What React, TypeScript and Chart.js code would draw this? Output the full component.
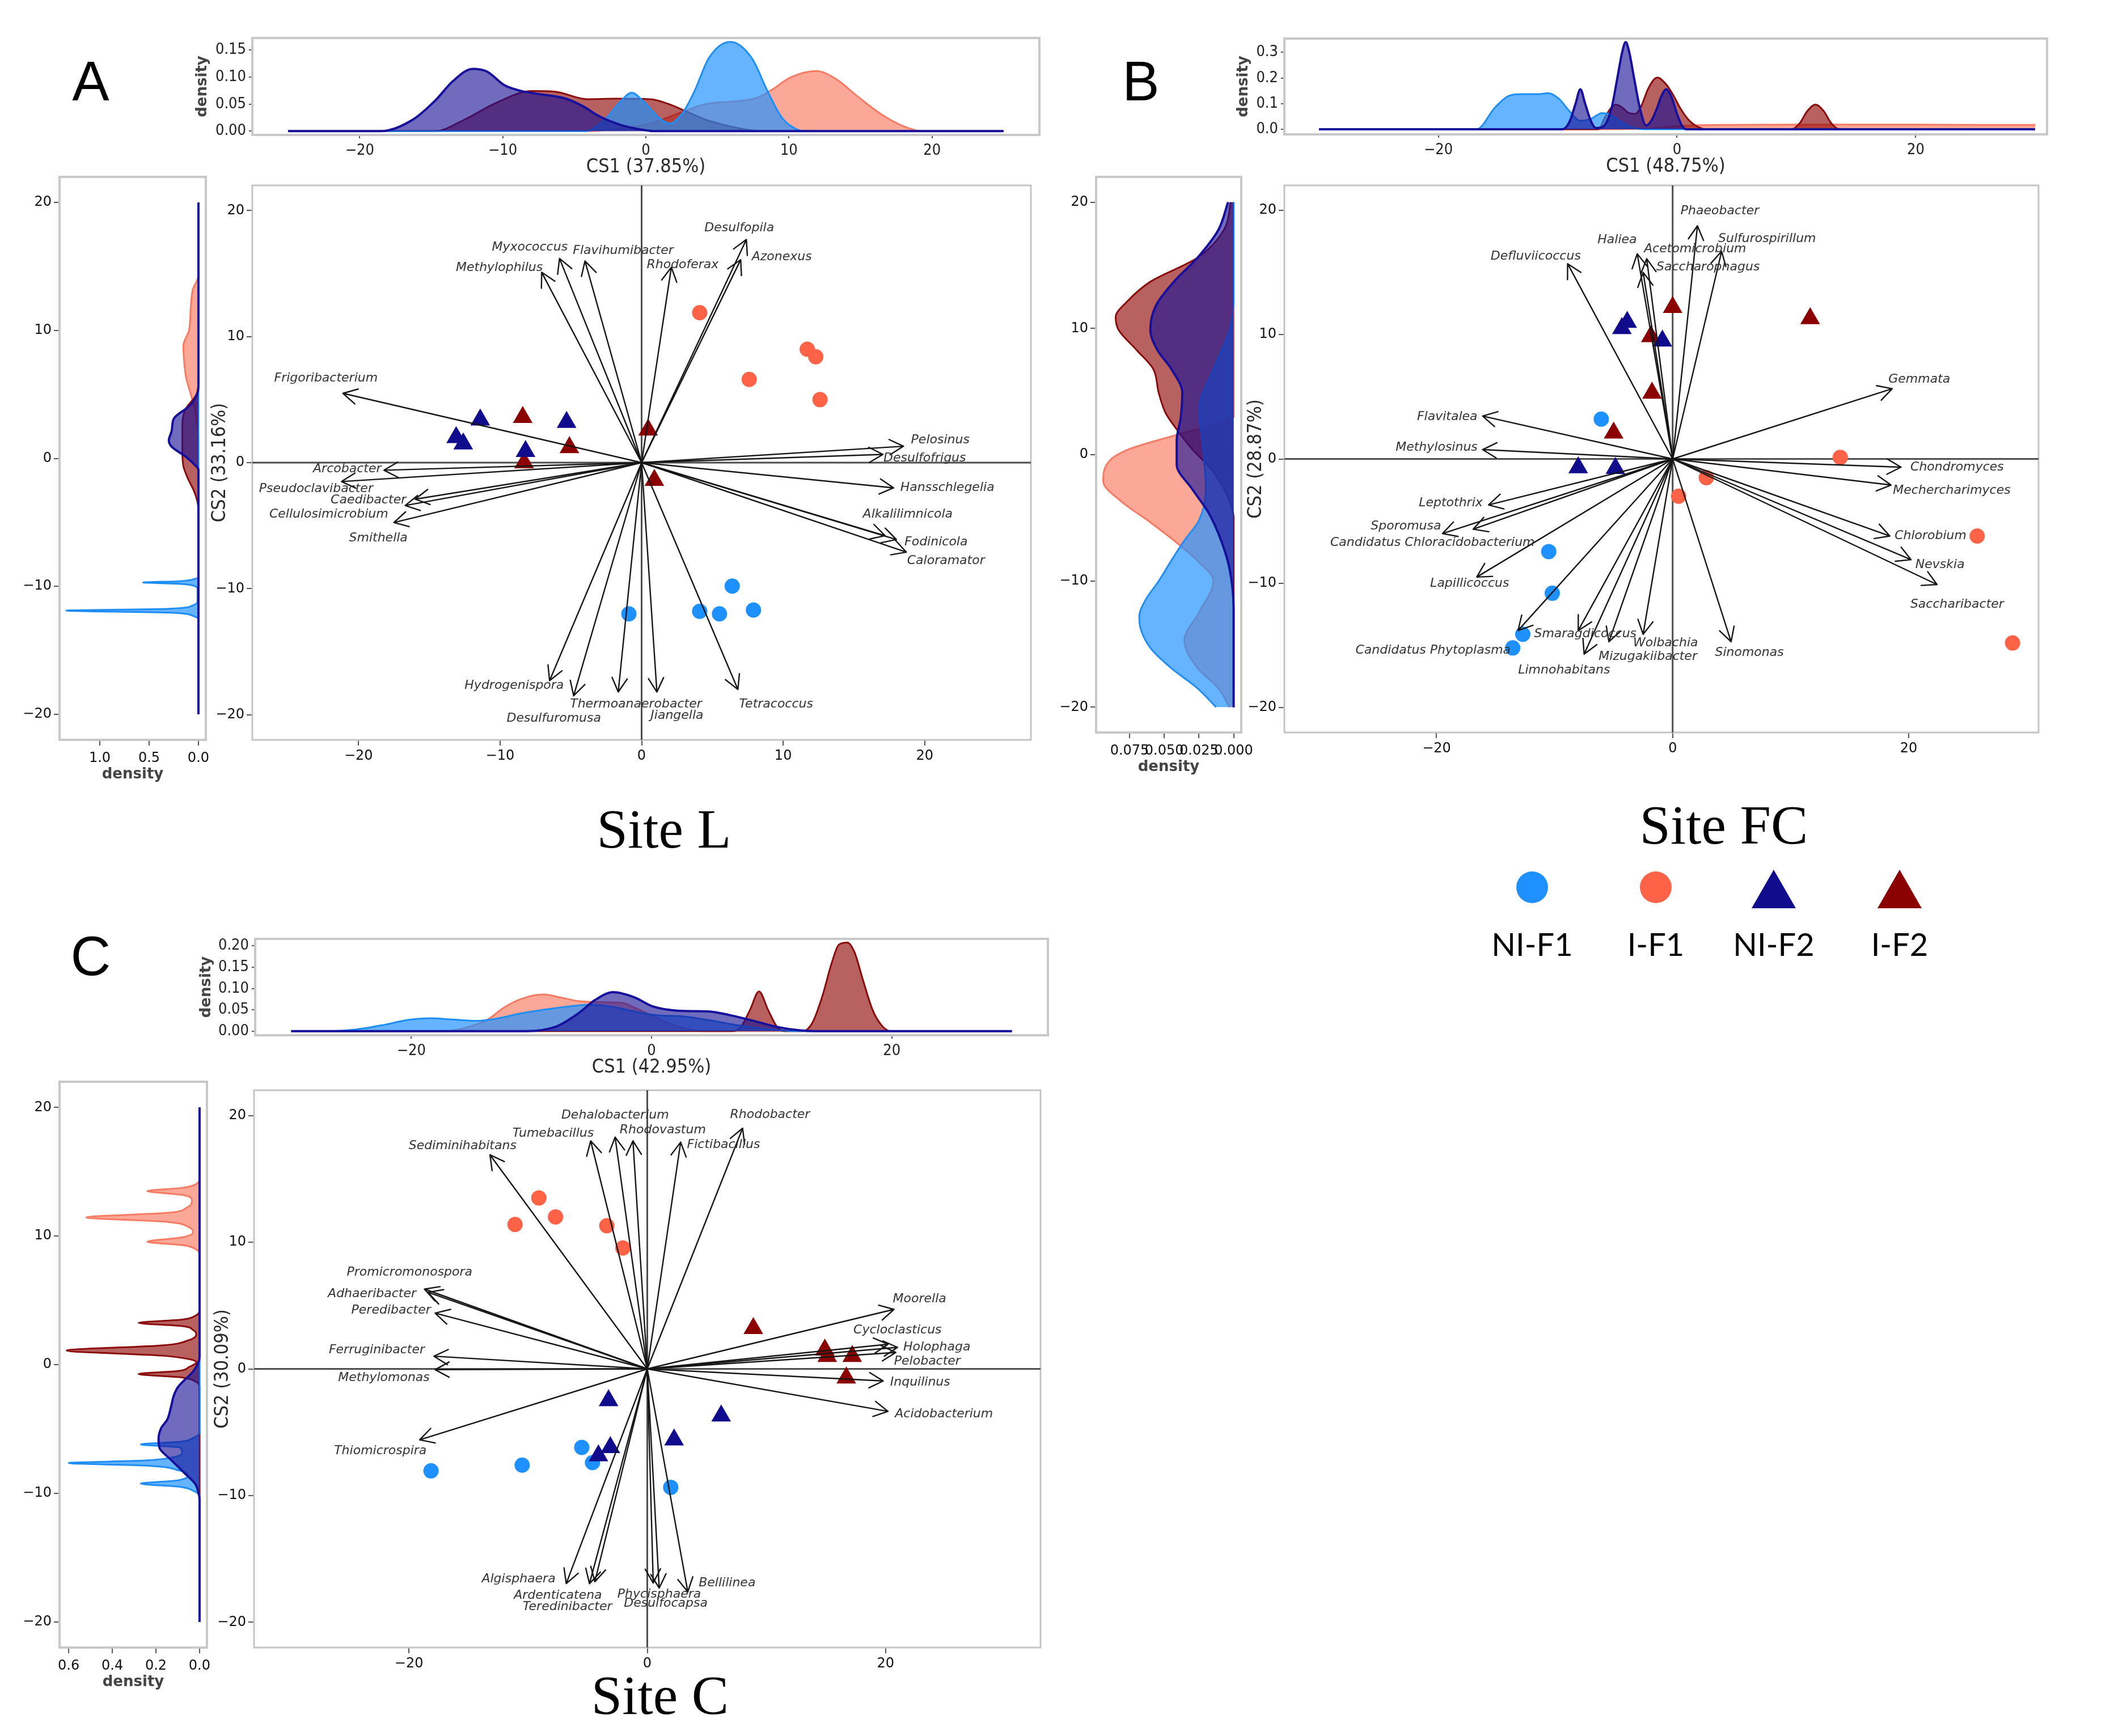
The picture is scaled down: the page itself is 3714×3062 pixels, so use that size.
import React, { useEffect, useRef } from 'react';
import { Chart, registerables } from 'chart.js';

Chart.register(...registerables);

// ---------------- fonts ----------------
const SANS = "'DejaVu Sans', Verdana, sans-serif";
const COND = "'Liberation Sans Narrow', 'DejaVu Sans Condensed', 'Arial Narrow', sans-serif";
const SERIF = "'Liberation Serif', 'Times New Roman', serif";
const ARIAL = "'Liberation Sans', Arial, sans-serif";
const LEGEND_FONT = "Lato, 'Open Sans', sans-serif";

// ---------------- groups ----------------
const GROUPS = ['NI-F1', 'I-F1', 'NI-F2', 'I-F2'];
const POINT_COLORS = ['#1E90FF', '#FF6347', '#100C8C', '#8B0000'];
const LINE_COLORS = ['#1E8EF5', '#F77B63', '#16109C', '#8B0A0A'];
const FILL_COLORS = ['rgba(30,144,255,0.68)', 'rgba(250,110,85,0.6)', 'rgba(24,16,148,0.62)', 'rgba(139,0,0,0.62)'];
const POINT_SHAPES = ['circle', 'circle', 'triangle', 'triangle'];
const DRAW_ORDER = [2, 0, 3, 1];

// ---------------- tick values ----------------
const MAIN_Y_TICKS = [-20, -10, 0, 10, 20];
const A_X_TICKS = [-20, -10, 0, 10, 20];
const B_X_TICKS = [-20, 0, 20];
const C_X_TICKS = [-20, 0, 20];
const A_TOP_Y_TICKS = [0, 0.05, 0.1, 0.15];
const B_TOP_Y_TICKS = [0, 0.1, 0.2, 0.3];
const C_TOP_Y_TICKS = [0, 0.05, 0.1, 0.15, 0.2];
const A_LEFT_X_TICKS = [0, 0.5, 1.0];
const B_LEFT_X_TICKS = [0, 0.025, 0.05, 0.075];
const C_LEFT_X_TICKS = [0, 0.2, 0.4, 0.6];

// ================= PANEL A (Site L) =================
const A_NIF1_X = [-0.9, 4.1, 5.5, 6.4, 7.9];
const A_NIF1_Y = [-12.0, -11.8, -12.0, -9.8, -11.7];
const A_IF1_X = [4.1, 7.6, 11.7, 12.3, 12.6];
const A_IF1_Y = [11.9, 6.6, 9.0, 8.4, 5.0];
const A_NIF2_X = [-13.1, -12.6, -11.4, -8.2, -5.3];
const A_NIF2_Y = [2.0, 1.5, 3.4, 0.9, 3.2];
const A_IF2_X = [-8.4, -8.3, -5.1, 0.46, 0.9];
const A_IF2_Y = [3.6, 0.0, 1.2, 2.6, -1.4];

const A_TAXA = ['Methylophilus', 'Myxococcus', 'Flavihumibacter', 'Rhodoferax', 'Desulfopila', 'Azonexus', 'Frigoribacterium', 'Arcobacter', 'Pseudoclavibacter', 'Caedibacter', 'Cellulosimicrobium', 'Smithella', 'Hydrogenispora', 'Desulfuromusa', 'Thermoanaerobacter', 'Jiangella', 'Tetracoccus', 'Pelosinus', 'Desulfofrigus', 'Hansschlegelia', 'Alkalilimnicola', 'Fodinicola', 'Caloramator'];
const A_ARROW_X = [-7.06, -5.8, -4.0, 2.1, 7.4, 7.0, -21.1, -18.2, -21.2, -16.0, -16.7, -17.5, -6.5, -4.8, -1.65, 1.08, 6.8, 18.5, 17.05, 17.8, 17.2, 18.0, 18.7];
const A_ARROW_Y = [15.1, 16.2, 16.0, 15.5, 17.7, 16.1, 5.5, -0.6, -1.5, -2.9, -3.4, -4.75, -17.3, -18.5, -18.2, -18.2, -18.0, 1.3, 0.65, -2.0, -5.8, -6.1, -7.1];
const A_LABEL_X = [-10.05, -7.9, -1.3, 2.9, 6.9, 9.9, -22.3, -20.8, -23.0, -19.3, -22.1, -18.6, -9.0, -6.2, -0.4, 2.5, 9.5, 21.1, 20.0, 21.6, 18.8, 20.8, 21.5];
const A_LABEL_Y = [15.45, 17.1, 16.8, 15.7, 18.6, 16.3, 6.7, -0.5, -2.1, -3.0, -4.1, -6.0, -17.7, -20.3, -19.2, -20.1, -19.2, 1.8, 0.35, -2.0, -4.1, -6.3, -7.8];

const A_TOP_NIF1_POS = [-25, -4.2, -2.9, -1.7, -1.0, -0.1, 0.9, 1.65, 2.6, 3.4, 4.4, 5.9, 7.4, 8.5, 9.5, 10.5, 11.2, 25];
const A_TOP_NIF1_DEN = [0, 0, 0.021, 0.057, 0.071, 0.053, 0.025, 0.014, 0.035, 0.074, 0.135, 0.165, 0.135, 0.074, 0.025, 0.004, 0, 0];
const A_TOP_IF1_POS = [-25, -4, -2, 0.3, 2.2, 4.2, 6.2, 7.8, 8.9, 10.1, 11.9, 13.3, 14.8, 16.4, 18.0, 19.3, 25];
const A_TOP_IF1_DEN = [0, 0, 0.004, 0.014, 0.032, 0.05, 0.055, 0.062, 0.078, 0.099, 0.111, 0.096, 0.064, 0.032, 0.009, 0, 0];
const A_TOP_NIF2_POS = [-25, -18.5, -16.3, -14.7, -13.5, -12.1, -11.1, -9.9, -8.7, -7.6, -5.6, -4.4, -3.3, -1.7, -0.1, 0.6, 25];
const A_TOP_NIF2_DEN = [0, 0, 0.021, 0.057, 0.092, 0.115, 0.11, 0.085, 0.074, 0.069, 0.06, 0.046, 0.028, 0.011, 0.002, 0, 0];
const A_TOP_IF2_POS = [-25, -14.7, -12.7, -10.4, -8.0, -6.4, -4.1, -2.1, 0.3, 1.5, 2.6, 4.2, 6.2, 8.1, 25];
const A_TOP_IF2_DEN = [0, 0, 0.021, 0.053, 0.074, 0.073, 0.059, 0.06, 0.059, 0.051, 0.039, 0.021, 0.007, 0, 0];

const A_LEFT_NIF1_POS = [-20, -12.6, -12.3, -12.05, -11.9, -11.75, -11.5, -11.2, -10.2, -9.95, -9.8, -9.7, -9.6, -9.45, -9.2, 20];
const A_LEFT_NIF1_DEN = [0, 0, 0.06, 0.3, 1.34, 0.3, 0.06, 0.01, 0.01, 0.05, 0.2, 0.56, 0.2, 0.05, 0, 0];
const A_LEFT_IF1_POS = [-20, 1.5, 2.5, 3.8, 5.0, 6.3, 7.5, 8.8, 10.0, 11.9, 13.2, 14.3, 20];
const A_LEFT_IF1_DEN = [0, 0, 0.01, 0.038, 0.077, 0.125, 0.144, 0.153, 0.096, 0.077, 0.057, 0, 0];
const A_LEFT_NIF2_POS = [-20, -0.9, -0.5, 0.16, 0.9, 1.4, 2.2, 3.1, 4.2, 5.6, 20];
const A_LEFT_NIF2_DEN = [0, 0, 0.038, 0.134, 0.27, 0.3, 0.27, 0.25, 0.077, 0, 0];
const A_LEFT_IF2_POS = [-20, -4.1, -3.4, -2.5, -1.6, -0.6, 0.6, 2.5, 3.8, 5.0, 6.0, 20];
const A_LEFT_IF2_DEN = [0, 0, 0.01, 0.048, 0.105, 0.153, 0.163, 0.163, 0.134, 0.02, 0, 0];

// ================= PANEL B (Site FC) =================
const B_NIF1_X = [-13.55, -12.7, -10.5, -10.2, -6.05];
const B_NIF1_Y = [-15.2, -14.1, -7.45, -10.8, 3.2];
const B_IF1_X = [0.5, 2.85, 14.2, 25.8, 28.8];
const B_IF1_Y = [-3.0, -1.5, 0.13, -6.2, -14.8];
const B_NIF2_X = [-8.0, -4.85, -4.3, -3.85, -0.87];
const B_NIF2_Y = [-0.7, -0.75, 10.5, 11.0, 9.5];
const B_IF2_X = [-5.0, -1.85, -1.75, 0.0, 11.65];
const B_IF2_Y = [2.1, 9.85, 5.3, 12.2, 11.3];

const B_TAXA = ['Defluviicoccus', 'Haliea', 'Acetomicrobium', 'Saccharophagus', 'Phaeobacter', 'Sulfurospirillum', 'Gemmata', 'Chondromyces', 'Mechercharimyces', 'Chlorobium', 'Nevskia', 'Saccharibacter', 'Sinomonas', 'Wolbachia', 'Mizugakiibacter', 'Smaragdicoccus', 'Limnohabitans', 'Candidatus Phytoplasma', 'Lapillicoccus', 'Candidatus Chloracidobacterium', 'Sporomusa', 'Leptothrix', 'Methylosinus', 'Flavitalea'];
const B_ARROW_X = [-8.9, -3.0, -2.2, -2.5, 2.1, 4.15, 18.6, 19.35, 18.5, 18.4, 20.2, 22.4, 4.95, -2.5, -5.4, -8.0, -7.5, -13.1, -16.6, -16.9, -19.5, -15.6, -16.1, -16.1];
const B_ARROW_Y = [15.7, 16.5, 16.1, 15.0, 18.75, 16.7, 5.65, -0.66, -2.1, -6.2, -8.1, -10.1, -14.7, -14.1, -14.7, -13.8, -15.7, -13.8, -9.5, -5.65, -6.0, -3.7, 0.75, 3.45];
const B_LABEL_X = [-11.6, -4.7, 1.9, 3.0, 4.0, 8.0, 20.9, 24.1, 23.65, 21.85, 22.65, 24.1, 6.5, -0.6, -2.1, -7.4, -9.2, -20.3, -17.2, -20.35, -22.6, -18.8, -20.0, -19.1];
const B_LABEL_Y = [16.3, 17.6, 16.9, 15.4, 19.95, 17.7, 6.4, -0.66, -2.55, -6.2, -8.5, -11.7, -15.6, -14.8, -15.9, -14.1, -17.0, -15.4, -10.0, -6.75, -5.4, -3.55, 0.9, 3.4];

const B_TOP_NIF1_POS = [-30, -16.8, -15.25, -14.1, -13.0, -11.7, -10.8, -9.9, -9.0, -8.1, -7.2, -6.3, -5.7, -4.8, -3.7, -2.8, 30];
const B_TOP_NIF1_DEN = [0, 0, 0.085, 0.13, 0.137, 0.137, 0.141, 0.119, 0.07, 0.033, 0.041, 0.063, 0.059, 0.033, 0.007, 0, 0];
const B_TOP_IF1_POS = [-30, -5, -2, 0, 2, 5, 10, 15, 20, 25, 30];
const B_TOP_IF1_DEN = [0, 0, 0.004, 0.012, 0.016, 0.017, 0.018, 0.018, 0.018, 0.017, 0.017];
const B_TOP_NIF2_POS = [-30, -9.6, -9.0, -8.5, -8.1, -7.7, -7.2, -6.8, -6.2, -5.5, -5.0, -4.6, -4.3, -4.0, -3.6, -3.1, -2.6, -2.2, -1.7, -1.3, -0.9, -0.5, 0, 0.4, 0.8, 30];
const B_TOP_NIF2_DEN = [0, 0, 0.03, 0.1, 0.156, 0.1, 0.03, 0.005, 0.01, 0.08, 0.2, 0.3, 0.34, 0.3, 0.2, 0.08, 0.015, 0.03, 0.08, 0.13, 0.156, 0.13, 0.06, 0.015, 0, 0];
const B_TOP_IF2_POS = [-30, -6.6, -6.0, -5.5, -5.1, -4.6, -4.1, -3.5, -3.0, -2.4, -1.65, -1.0, -0.4, 0.3, 1.0, 1.8, 2.5, 9.6, 10.3, 10.9, 11.6, 12.3, 12.9, 13.6, 30];
const B_TOP_IF2_DEN = [0, 0, 0.05, 0.085, 0.096, 0.085, 0.065, 0.06, 0.09, 0.16, 0.202, 0.18, 0.14, 0.08, 0.035, 0.008, 0, 0, 0.025, 0.07, 0.096, 0.07, 0.025, 0, 0];

const B_LEFT_NIF1_POS = [-20, -18.5, -16.9, -15.3, -13.8, -12.8, -11.6, -10.0, -8.4, -6.8, -5.2, -2.7, 0.4, 3.6, 6.8, 9.9, 12.1, 20];
const B_LEFT_NIF1_DEN = [0.0127, 0.026, 0.045, 0.06, 0.067, 0.068, 0.064, 0.054, 0.045, 0.0355, 0.025, 0.02, 0.022, 0.025, 0.0146, 0.003, 0, 0];
const B_LEFT_IF1_POS = [-20, -18.5, -16.9, -14.7, -12.5, -10.0, -8.4, -6.8, -5.2, -3.7, -2.1, -0.5, 0.45, 1.7, 3.0, 20];
const B_LEFT_IF1_DEN = [0.003, 0.011, 0.026, 0.0355, 0.025, 0.0146, 0.026, 0.043, 0.062, 0.081, 0.094, 0.0896, 0.075, 0.037, 0, 0];
const B_LEFT_NIF2_POS = [-20, -12.2, -9.0, -6.8, -4.6, -2.7, -0.8, 1.1, 3.0, 4.9, 6.8, 8.3, 9.9, 11.8, 13.7, 15.6, 17.8, 20];
const B_LEFT_NIF2_DEN = [0, 0, 0.003, 0.009, 0.018, 0.03, 0.041, 0.041, 0.038, 0.037, 0.045, 0.055, 0.06, 0.056, 0.043, 0.026, 0.011, 0.004];
const B_LEFT_IF2_POS = [-20, -5, -4.3, -2.7, -1.1, 0.45, 2.0, 3.3, 4.9, 6.8, 8.3, 9.9, 10.9, 12.1, 13.7, 15.6, 17.8, 20];
const B_LEFT_IF2_DEN = [0, 0, 0.001, 0.007, 0.0165, 0.03, 0.041, 0.049, 0.054, 0.058, 0.07, 0.083, 0.085, 0.077, 0.06, 0.026, 0.007, 0.002];

// ================= PANEL C (Site C) =================
const C_NIF1_X = [-18.15, -10.5, -5.5, -4.6, 1.97];
const C_NIF1_Y = [-8.05, -7.6, -6.2, -7.4, -9.35];
const C_IF1_X = [-11.1, -9.1, -7.7, -3.4, -2.05];
const C_IF1_Y = [11.4, 13.5, 12.0, 11.3, 9.55];
const C_NIF2_X = [-4.1, -3.25, -3.1, 2.25, 6.2];
const C_NIF2_Y = [-6.85, -2.5, -6.2, -5.6, -3.7];
const C_IF2_X = [8.9, 14.9, 15.1, 16.7, 17.2];
const C_IF2_Y = [3.2, 1.5, 1.0, -0.7, 1.0];

const C_TAXA = ['Sediminihabitans', 'Tumebacillus', 'Dehalobacterium', 'Rhodovastum', 'Fictibacillus', 'Rhodobacter', 'Promicromonospora', 'Adhaeribacter', 'Peredibacter', 'Ferruginibacter', 'Methylomonas', 'Thiomicrospira', 'Algisphaera', 'Ardenticatena', 'Teredinibacter', 'Phycisphaera', 'Desulfocapsa', 'Bellilinea', 'Moorella', 'Cycloclasticus', 'Holophaga', 'Pelobacter', 'Inquilinus', 'Acidobacterium'];
const C_ARROW_X = [-13.2, -4.75, -2.7, -1.2, 2.8, 8.0, -18.7, -18.4, -17.8, -17.9, -17.8, -19.1, -6.8, -4.85, -4.4, 0.5, 1.0, 3.4, 20.7, 20.2, 21.0, 20.85, 19.8, 20.2];
const C_ARROW_Y = [16.9, 18.0, 18.3, 18.0, 17.9, 19.0, 6.3, 6.05, 4.4, 1.0, -0.06, -5.6, -16.95, -16.95, -16.8, -16.9, -17.3, -17.6, 4.7, 1.95, 1.7, 1.3, -0.95, -3.35];
const C_LABEL_X = [-15.5, -7.9, -2.7, 1.3, 6.4, 10.3, -19.95, -23.1, -21.5, -22.7, -22.1, -22.4, -10.8, -7.5, -6.7, 1.0, 1.55, 6.7, 22.85, 21.0, 24.3, 23.5, 22.9, 24.9];
const C_LABEL_Y = [17.6, 18.6, 20.0, 18.85, 17.7, 20.05, 7.6, 5.9, 4.6, 1.5, -0.7, -6.5, -16.6, -17.9, -18.8, -17.8, -18.5, -16.9, 5.5, 3.05, 1.7, 0.6, -1.05, -3.55];

const C_TOP_NIF1_POS = [-30, -27, -24.6, -22.2, -20.3, -18.4, -16.5, -14.6, -12.75, -10.9, -9.0, -7.1, -5.2, -3.3, -1.4, 0.5, 2.4, 4.25, 6.1, 8.0, 9.9, 11.8, 30];
const C_TOP_NIF1_DEN = [0, 0, 0.004, 0.015, 0.026, 0.03, 0.027, 0.024, 0.03, 0.0415, 0.05, 0.057, 0.062, 0.057, 0.046, 0.037, 0.035, 0.028, 0.019, 0.01, 0.004, 0, 0];
const C_TOP_IF1_POS = [-30, -17, -15.5, -13.7, -12.3, -10.9, -9.0, -7.6, -6.1, -4.25, -2.4, -1.4, 0, 1.4, 2.8, 4.25, 30];
const C_TOP_IF1_DEN = [0, 0, 0.008, 0.026, 0.055, 0.075, 0.086, 0.079, 0.0705, 0.068, 0.066, 0.055, 0.037, 0.019, 0.006, 0, 0];
const C_TOP_NIF2_POS = [-30, -10.4, -8.0, -6.1, -4.7, -3.2, -1.4, 0, 1.4, 2.8, 4.7, 6.6, 8.5, 10.4, 12.3, 13.7, 30];
const C_TOP_NIF2_DEN = [0, 0, 0.01, 0.0415, 0.073, 0.0915, 0.079, 0.059, 0.05, 0.047, 0.046, 0.037, 0.024, 0.01, 0.002, 0, 0];
const C_TOP_IF2_POS = [-30, 6.8, 7.5, 8.2, 8.95, 9.7, 10.4, 11.0, 12.6, 13.4, 14.2, 15.0, 15.6, 16.3, 16.9, 17.6, 18.4, 19.2, 19.9, 30];
const C_TOP_IF2_DEN = [0, 0, 0.012, 0.05, 0.093, 0.05, 0.012, 0, 0, 0.02, 0.08, 0.16, 0.203, 0.208, 0.185, 0.12, 0.05, 0.012, 0, 0];

const C_LEFT_NIF1_POS = [-20, -10.2, -9.8, -9.5, -9.25, -9.0, -8.6, -8.2, -7.85, -7.65, -7.45, -7.2, -6.8, -6.45, -6.2, -6.0, -5.7, -5.3, 20];
const C_LEFT_NIF1_DEN = [0, 0, 0.03, 0.09, 0.27, 0.1, 0.054, 0.1, 0.25, 0.6, 0.25, 0.12, 0.08, 0.09, 0.27, 0.09, 0.03, 0, 0];
const C_LEFT_IF1_POS = [-20, 8.5, 9.0, 9.3, 9.55, 9.9, 10.3, 10.7, 11.1, 11.45, 11.8, 12.2, 12.8, 13.2, 13.5, 13.75, 14.0, 14.5, 20];
const C_LEFT_IF1_DEN = [0, 0, 0.02, 0.08, 0.24, 0.08, 0.03, 0.05, 0.15, 0.52, 0.15, 0.06, 0.035, 0.08, 0.24, 0.08, 0.02, 0, 0];
const C_LEFT_NIF2_POS = [-20, -10.5, -9.9, -9.3, -8.4, -7.4, -6.5, -5.8, -4.9, -4.3, -3.3, -2.4, -1.7, -0.5, 0.15, 0.6, 20];
const C_LEFT_NIF2_DEN = [0, 0, 0.006, 0.019, 0.071, 0.131, 0.183, 0.188, 0.175, 0.149, 0.131, 0.118, 0.097, 0.028, 0.006, 0, 0];
const C_LEFT_IF2_POS = [-20, -1.7, -1.3, -1.0, -0.73, -0.5, -0.2, 0.2, 0.4, 0.7, 1.1, 1.5, 1.9, 2.35, 2.7, 3.0, 3.25, 3.5, 3.8, 4.2, 20];
const C_LEFT_IF2_DEN = [0, 0, 0.02, 0.08, 0.28, 0.1, 0.05, 0.015, 0.04, 0.17, 0.61, 0.17, 0.05, 0.015, 0.03, 0.08, 0.28, 0.08, 0.02, 0, 0];

// ---------------- helpers ----------------
type Rect = { left: number; top: number; width: number; height: number };
const PAD = 5;
const LEFT_PAD_R = 40;

function rectFor(box: number[], gl: number, gb: number, padR: number = PAD): Rect {
  const [L, T, R, B] = box;
  return { left: L - gl, top: T - PAD, width: R - L + gl + padR, height: B - T + PAD + gb };
}

function fmt(v: number, d: number) {
  const s = Math.abs(v).toFixed(d);
  return (v < -1e-9 ? '\u2212' : '') + s;
}

function fitAxis(size: number, vertical: boolean) {
  return (s: any) => {
    if (vertical) s.width = size;
    else s.height = size;
    s.paddingLeft = 0;
    s.paddingRight = 0;
    s.paddingTop = 0;
    s.paddingBottom = 0;
  };
}

function fixedTicks(values: number[]) {
  return (s: any) => {
    s.ticks = values.map((v) => ({ value: v }));
  };
}

function framePlugin(color: string, width: number) {
  return {
    id: 'frame',
    afterDraw(chart: any) {
      const { ctx, chartArea: a } = chart;
      ctx.save();
      ctx.strokeStyle = color;
      ctx.lineWidth = width;
      ctx.strokeRect(a.left, a.top, a.right - a.left, a.bottom - a.top);
      ctx.restore();
    },
  };
}

function biplotPlugin(names: string[], ax: number[], ay: number[], lx: number[], ly: number[]) {
  return {
    id: 'biplot',
    beforeDatasetsDraw(chart: any) {
      const { ctx, chartArea: a, scales } = chart;
      const x0 = scales.x.getPixelForValue(0);
      const y0 = scales.y.getPixelForValue(0);
      ctx.save();
      ctx.strokeStyle = '#c4c4c4';
      ctx.lineWidth = 3;
      ctx.strokeRect(a.left, a.top, a.right - a.left, a.bottom - a.top);
      ctx.strokeStyle = '#4d4d4d';
      ctx.lineWidth = 3;
      ctx.beginPath();
      ctx.moveTo(a.left, y0);
      ctx.lineTo(a.right, y0);
      ctx.moveTo(x0, a.top);
      ctx.lineTo(x0, a.bottom);
      ctx.stroke();
      ctx.restore();
    },
    afterDatasetsDraw(chart: any) {
      const { ctx, scales } = chart;
      const x0 = scales.x.getPixelForValue(0);
      const y0 = scales.y.getPixelForValue(0);
      ctx.save();
      ctx.strokeStyle = '#161616';
      ctx.lineWidth = 2.4;
      ctx.lineCap = 'round';
      names.forEach((_, i) => {
        const px = scales.x.getPixelForValue(ax[i]);
        const py = scales.y.getPixelForValue(ay[i]);
        const ang = Math.atan2(py - y0, px - x0);
        ctx.beginPath();
        ctx.moveTo(x0, y0);
        ctx.lineTo(px, py);
        for (const s of [-1, 1]) {
          const a2 = ang + Math.PI + s * 0.5;
          ctx.moveTo(px, py);
          ctx.lineTo(px + 28 * Math.cos(a2), py + 28 * Math.sin(a2));
        }
        ctx.stroke();
      });
      ctx.font = `italic 22px ${SANS}`;
      ctx.fillStyle = '#333333';
      ctx.textAlign = 'center';
      ctx.textBaseline = 'middle';
      names.forEach((n, i) => {
        ctx.fillText(n, scales.x.getPixelForValue(lx[i]), scales.y.getPixelForValue(ly[i]));
      });
      ctx.restore();
    },
  };
}

const BASE_OPTS = {
  animation: false,
  responsive: false,
  devicePixelRatio: 1,
  events: [] as string[],
};

const TICK_GRID = (len: number) => ({
  drawOnChartArea: false,
  drawTicks: true,
  tickLength: len,
  color: '#555555',
  lineWidth: 2,
});

// ---------------- chart builders ----------------
type MainSpec = {
  xs: number[][]; ys: number[][]; xRange: number[]; yRange: number[]; xTicks: number[];
  gl: number; titlePad: number; title: string;
  taxa: string[]; ax: number[]; ay: number[]; lx: number[]; ly: number[];
};
const MAIN_GB = 50;

function mainConfig(o: MainSpec) {
  return {
    type: 'scatter',
    data: {
      datasets: DRAW_ORDER.map((g) => ({
        label: GROUPS[g],
        data: o.xs[g].map((x, i) => ({ x, y: o.ys[g][i] })),
        pointStyle: POINT_SHAPES[g],
        pointRadius: POINT_SHAPES[g] === 'triangle' ? 20 : 13.5,
        pointHoverRadius: POINT_SHAPES[g] === 'triangle' ? 20 : 13.5,
        pointBackgroundColor: POINT_COLORS[g],
        pointBorderColor: POINT_COLORS[g],
        pointBorderWidth: 0,
      })),
    },
    options: {
      ...BASE_OPTS,
      layout: { padding: { top: PAD, right: PAD, left: 0, bottom: 0 } },
      plugins: { legend: { display: false }, tooltip: { enabled: false } },
      scales: {
        x: {
          type: 'linear', min: o.xRange[0], max: o.xRange[1],
          afterBuildTicks: fixedTicks(o.xTicks), afterFit: fitAxis(MAIN_GB, false),
          ticks: { autoSkip: false, maxRotation: 0, padding: 4, color: '#111', font: { family: SANS, size: 24 }, callback: (v: number) => fmt(v, 0) },
          grid: TICK_GRID(10),
          border: { display: false },
        },
        y: {
          type: 'linear', min: o.yRange[0], max: o.yRange[1],
          afterBuildTicks: fixedTicks(MAIN_Y_TICKS), afterFit: fitAxis(o.gl, true),
          ticks: { autoSkip: false, padding: 4, color: '#111', font: { family: SANS, size: 24 }, callback: (v: number) => fmt(v, 0) },
          grid: TICK_GRID(10),
          border: { display: false },
          title: { display: true, text: o.title, color: '#2a2a2a', font: { family: COND, size: 34 }, padding: { top: o.titlePad, bottom: 0 } },
        },
      },
    },
    plugins: [biplotPlugin(o.taxa, o.ax, o.ay, o.lx, o.ly)],
  };
}

type TopSpec = {
  pos: number[][]; den: number[][]; xRange: number[]; yRange: number[];
  xTicks: number[]; yTicks: number[]; yDec: number; gl: number; title: string;
};
const TOP_GB = 78;

function topConfig(o: TopSpec) {
  return {
    type: 'line',
    data: {
      datasets: DRAW_ORDER.map((g) => ({
        label: GROUPS[g],
        data: o.pos[g].map((x, i) => ({ x, y: o.den[g][i] })),
        borderColor: LINE_COLORS[g],
        backgroundColor: FILL_COLORS[g],
        borderWidth: g === 2 ? 4 : 3,
        fill: 'origin',
        pointRadius: 0,
        cubicInterpolationMode: 'monotone',
      })),
    },
    options: {
      ...BASE_OPTS,
      layout: { padding: { top: PAD, right: PAD, left: 0, bottom: 0 } },
      plugins: { legend: { display: false }, tooltip: { enabled: false }, filler: { propagate: false } },
      scales: {
        x: {
          type: 'linear', min: o.xRange[0], max: o.xRange[1],
          afterBuildTicks: fixedTicks(o.xTicks), afterFit: fitAxis(TOP_GB, false),
          ticks: { autoSkip: false, maxRotation: 0, padding: 6, color: '#222', font: { family: COND, size: 27 }, callback: (v: number) => fmt(v, 0) },
          grid: TICK_GRID(6),
          border: { display: false },
          title: { display: true, text: o.title, color: '#2a2a2a', font: { family: COND, size: 34 }, padding: { top: 0, bottom: 0.6 } },
        },
        y: {
          type: 'linear', min: o.yRange[0], max: o.yRange[1],
          afterBuildTicks: fixedTicks(o.yTicks), afterFit: fitAxis(o.gl, true),
          ticks: { autoSkip: false, padding: 5, color: '#222', font: { family: COND, size: 27 }, callback: (v: number) => fmt(v, o.yDec) },
          grid: TICK_GRID(6),
          border: { display: false },
          title: { display: true, text: 'density', color: '#444', font: { family: SANS, size: 26, weight: 'bold' }, padding: { top: 6.4, bottom: 0 } },
        },
      },
    },
    plugins: [framePlugin('#c8c8c8', 4)],
  };
}

type LeftSpec = {
  pos: number[][]; den: number[][]; xRange: number[]; yRange: number[];
  xTicks: number[]; xDec: number;
};
const LEFT_GL = 70;
const LEFT_GB = 85;

function leftConfig(o: LeftSpec) {
  return {
    type: 'line',
    data: {
      datasets: DRAW_ORDER.map((g) => {
        const pts = o.pos[g].map((y, i) => ({ x: o.den[g][i], y }));
        pts.reverse();
        return {
          label: GROUPS[g],
          data: pts,
          borderColor: LINE_COLORS[g],
          backgroundColor: FILL_COLORS[g],
          borderWidth: g === 2 ? 4 : 3,
          fill: 'origin',
          pointRadius: 0,
          cubicInterpolationMode: 'monotone',
        };
      }),
    },
    options: {
      ...BASE_OPTS,
      layout: { padding: { top: PAD, right: LEFT_PAD_R, left: 0, bottom: 0 } },
      indexAxis: 'y',
      plugins: { legend: { display: false }, tooltip: { enabled: false }, filler: { propagate: false } },
      scales: {
        x: {
          type: 'linear', min: o.xRange[0], max: o.xRange[1], reverse: true,
          afterBuildTicks: fixedTicks(o.xTicks), afterFit: fitAxis(LEFT_GB, false),
          ticks: { autoSkip: false, maxRotation: 0, padding: 8, color: '#111', font: { family: SANS, size: 24 }, callback: (v: number) => fmt(v, o.xDec) },
          grid: TICK_GRID(10),
          border: { display: false },
          title: { display: true, text: 'density', color: '#444', font: { family: SANS, size: 26, weight: 'bold' }, padding: { top: 0, bottom: 8.4 } },
        },
        y: {
          type: 'linear', min: o.yRange[0], max: o.yRange[1],
          afterBuildTicks: fixedTicks(MAIN_Y_TICKS), afterFit: fitAxis(LEFT_GL, true),
          ticks: { autoSkip: false, padding: 4, color: '#111', font: { family: SANS, size: 24 }, callback: (v: number) => fmt(v, 0) },
          grid: TICK_GRID(10),
          border: { display: false },
        },
      },
    },
    plugins: [framePlugin('#c8c8c8', 4)],
  };
}

// ---------------- canvas component ----------------
function ChartCanvas({ rect, build }: { rect: Rect; build: () => any }) {
  const ref = useRef<HTMLCanvasElement | null>(null);
  useEffect(() => {
    if (!ref.current) return;
    const chart = new Chart(ref.current, build());
    return () => chart.destroy();
  }, []);
  return (
    <canvas
      ref={ref}
      width={rect.width}
      height={rect.height}
      style={{ position: 'absolute', left: rect.left, top: rect.top, width: rect.width, height: rect.height }}
    />
  );
}

// ---------------- layout boxes [L, T, R, B] ----------------
const A_MAIN_BOX = [445, 312, 1833, 1305];
const A_TOP_BOX = [445, 67, 1833, 238];
const A_LEFT_BOX = [105, 312, 363, 1305];
const B_MAIN_BOX = [2265, 312, 3610, 1292];
const B_TOP_BOX = [2265, 68, 3610, 237];
const B_LEFT_BOX = [1933, 312, 2189, 1292];
const C_MAIN_BOX = [448, 1908, 1850, 2906];
const C_TOP_BOX = [450, 1656, 1848, 1826];
const C_LEFT_BOX = [105, 1908, 365, 2906];

const LEGEND_X = [2702, 2920, 3128, 3350];

function Txt({ x, y, size, family, children, weight }: { x: number; y: number; size: number; family: string; children: any; weight?: string }) {
  return (
    <div
      style={{
        position: 'absolute', left: x, top: y, transform: 'translate(-50%, -50%)',
        fontSize: size, fontFamily: family, lineHeight: 1, whiteSpace: 'nowrap', color: '#000', fontWeight: weight || 'normal',
      }}
    >
      {children}
    </div>
  );
}

export default function App() {
  const charts: { key: string; rect: Rect; build: () => any }[] = [
    {
      key: 'a-left', rect: rectFor(A_LEFT_BOX, LEFT_GL, LEFT_GB, LEFT_PAD_R),
      build: () => leftConfig({
        pos: [A_LEFT_NIF1_POS, A_LEFT_IF1_POS, A_LEFT_NIF2_POS, A_LEFT_IF2_POS],
        den: [A_LEFT_NIF1_DEN, A_LEFT_IF1_DEN, A_LEFT_NIF2_DEN, A_LEFT_IF2_DEN],
        xRange: [-0.075, 1.408], yRange: [-22, 22], xTicks: A_LEFT_X_TICKS, xDec: 1,
      }),
    },
    {
      key: 'a-main', rect: rectFor(A_MAIN_BOX, 82, MAIN_GB),
      build: () => mainConfig({
        xs: [A_NIF1_X, A_IF1_X, A_NIF2_X, A_IF2_X], ys: [A_NIF1_Y, A_IF1_Y, A_NIF2_Y, A_IF2_Y],
        xRange: [-27.5, 27.5], yRange: [-22, 22], xTicks: A_X_TICKS, gl: 82, titlePad: 4.6, title: 'CS2 (33.16%)',
        taxa: A_TAXA, ax: A_ARROW_X, ay: A_ARROW_Y, lx: A_LABEL_X, ly: A_LABEL_Y,
      }),
    },
    {
      key: 'a-top', rect: rectFor(A_TOP_BOX, 110, TOP_GB),
      build: () => topConfig({
        pos: [A_TOP_NIF1_POS, A_TOP_IF1_POS, A_TOP_NIF2_POS, A_TOP_IF2_POS],
        den: [A_TOP_NIF1_DEN, A_TOP_IF1_DEN, A_TOP_NIF2_DEN, A_TOP_IF2_DEN],
        xRange: [-27.5, 27.5], yRange: [-0.007, 0.172], xTicks: A_X_TICKS, yTicks: A_TOP_Y_TICKS, yDec: 2, gl: 110, title: 'CS1 (37.85%)',
      }),
    },
    {
      key: 'b-left', rect: rectFor(B_LEFT_BOX, LEFT_GL, LEFT_GB, LEFT_PAD_R),
      build: () => leftConfig({
        pos: [B_LEFT_NIF1_POS, B_LEFT_IF1_POS, B_LEFT_NIF2_POS, B_LEFT_IF2_POS],
        den: [B_LEFT_NIF1_DEN, B_LEFT_IF1_DEN, B_LEFT_NIF2_DEN, B_LEFT_IF2_DEN],
        xRange: [-0.0055, 0.0991], yRange: [-22, 22], xTicks: B_LEFT_X_TICKS, xDec: 3,
      }),
    },
    {
      key: 'b-main', rect: rectFor(B_MAIN_BOX, 76, MAIN_GB),
      build: () => mainConfig({
        xs: [B_NIF1_X, B_IF1_X, B_NIF2_X, B_IF2_X], ys: [B_NIF1_Y, B_IF1_Y, B_NIF2_Y, B_IF2_Y],
        xRange: [-32.9, 31.0], yRange: [-22, 22], xTicks: B_X_TICKS, gl: 76, titlePad: 5.6, title: 'CS2 (28.87%)',
        taxa: B_TAXA, ax: B_ARROW_X, ay: B_ARROW_Y, lx: B_LABEL_X, ly: B_LABEL_Y,
      }),
    },
    {
      key: 'b-top', rect: rectFor(B_TOP_BOX, 94, TOP_GB),
      build: () => topConfig({
        pos: [B_TOP_NIF1_POS, B_TOP_IF1_POS, B_TOP_NIF2_POS, B_TOP_IF2_POS],
        den: [B_TOP_NIF1_DEN, B_TOP_IF1_DEN, B_TOP_NIF2_DEN, B_TOP_IF2_DEN],
        xRange: [-32.9, 31.0], yRange: [-0.02, 0.354], xTicks: B_X_TICKS, yTicks: B_TOP_Y_TICKS, yDec: 1, gl: 94, title: 'CS1 (48.75%)',
      }),
    },
    {
      key: 'c-left', rect: rectFor(C_LEFT_BOX, LEFT_GL, LEFT_GB, LEFT_PAD_R),
      build: () => leftConfig({
        pos: [C_LEFT_NIF1_POS, C_LEFT_IF1_POS, C_LEFT_NIF2_POS, C_LEFT_IF2_POS],
        den: [C_LEFT_NIF1_DEN, C_LEFT_IF1_DEN, C_LEFT_NIF2_DEN, C_LEFT_IF2_DEN],
        xRange: [-0.034, 0.642], yRange: [-22, 22], xTicks: C_LEFT_X_TICKS, xDec: 1,
      }),
    },
    {
      key: 'c-main', rect: rectFor(C_MAIN_BOX, 80, MAIN_GB),
      build: () => mainConfig({
        xs: [C_NIF1_X, C_IF1_X, C_NIF2_X, C_IF2_X], ys: [C_NIF1_Y, C_IF1_Y, C_NIF2_Y, C_IF2_Y],
        xRange: [-33, 33], yRange: [-22, 22], xTicks: C_X_TICKS, gl: 80, titlePad: 4.6, title: 'CS2 (30.09%)',
        taxa: C_TAXA, ax: C_ARROW_X, ay: C_ARROW_Y, lx: C_LABEL_X, ly: C_LABEL_Y,
      }),
    },
    {
      key: 'c-top', rect: rectFor(C_TOP_BOX, 108, TOP_GB),
      build: () => topConfig({
        pos: [C_TOP_NIF1_POS, C_TOP_IF1_POS, C_TOP_NIF2_POS, C_TOP_IF2_POS],
        den: [C_TOP_NIF1_DEN, C_TOP_IF1_DEN, C_TOP_NIF2_DEN, C_TOP_IF2_DEN],
        xRange: [-33, 33], yRange: [-0.0098, 0.2165], xTicks: C_X_TICKS, yTicks: C_TOP_Y_TICKS, yDec: 2, gl: 108, title: 'CS1 (42.95%)',
      }),
    },
  ];

  return (
    <div style={{ position: 'absolute', left: 0, top: 0, width: 3714, height: 3062, background: '#ffffff', overflow: 'hidden' }}>
      {charts.map((c) => (
        <ChartCanvas key={c.key} rect={c.rect} build={c.build} />
      ))}

      <Txt x={160} y={143} size={98} family={ARIAL}>A</Txt>
      <Txt x={2012} y={143} size={98} family={ARIAL}>B</Txt>
      <Txt x={160} y={1686} size={98} family={ARIAL}>C</Txt>

      <Txt x={1171} y={1462} size={98} family={SERIF}>Site L</Txt>
      <Txt x={3040} y={1455} size={98} family={SERIF}>Site FC</Txt>
      <Txt x={1164} y={2990} size={98} family={SERIF}>Site C</Txt>

      {GROUPS.map((g, i) =>
        POINT_SHAPES[i] === 'circle' ? (
          <div
            key={'m' + g}
            style={{
              position: 'absolute', left: LEGEND_X[i] - 28, top: 1565 - 28, width: 56, height: 56,
              borderRadius: '50%', background: POINT_COLORS[i],
            }}
          />
        ) : (
          <div
            key={'m' + g}
            style={{
              position: 'absolute', left: LEGEND_X[i] - 39, top: 1570 - 36, width: 78, height: 68,
              background: POINT_COLORS[i], clipPath: 'polygon(50% 0%, 100% 100%, 0% 100%)',
            }}
          />
        )
      )}
      {GROUPS.map((g, i) => (
        <Txt key={'l' + g} x={LEGEND_X[i]} y={1665} size={56} family={LEGEND_FONT}>{g}</Txt>
      ))}
    </div>
  );
}
